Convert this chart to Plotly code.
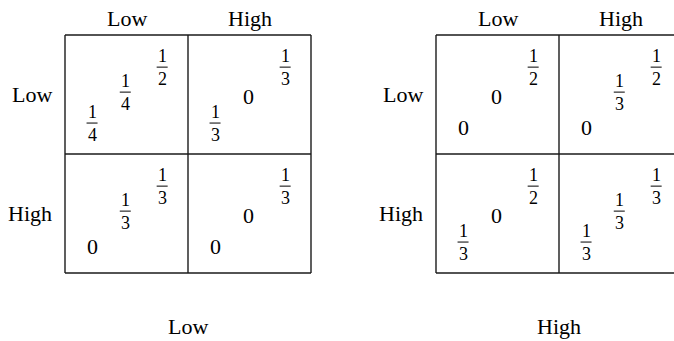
import plotly.graph_objects as go

# ---- data ----
panel_labels = ["Low", "High"]
row_labels = ["Low", "High"]
col_labels = ["Low", "High"]
# each cell: [bottom-left, middle, top-right]
panel_low = [
    [["1/4", "1/4", "1/2"], ["1/3", "0", "1/3"]],
    [["0", "1/3", "1/3"], ["0", "0", "1/3"]],
]
panel_high = [
    [["0", "0", "1/2"], ["0", "1/3", "1/2"]],
    [["1/3", "0", "1/2"], ["1/3", "1/3", "1/3"]],
]
panels = [panel_low, panel_high]

# ---- layout constants (pixel space) ----
W, H = 674, 341
FONT = "Liberation Serif, Times New Roman, serif"
panel_x0 = [65, 436]
panel_y0 = 35
cw, ch = 123, 119
slots = [(0.22, 0.74), (0.49, 0.48), (0.79, 0.27)]
big = 22
small = 18
line_col = "#1a1a1a"

fig = go.Figure()
shapes = []
annotations = []


def txt(x, y, s, size, xanchor="center", yanchor="middle"):
    annotations.append(dict(x=x, y=y, xref="x", yref="y", text=s, showarrow=False,
                            xanchor=xanchor, yanchor=yanchor, borderpad=0,
                            font=dict(family=FONT, size=size, color="black")))


for p, panel in enumerate(panels):
    x0 = panel_x0[p]
    # grid lines
    for i in range(3):
        shapes.append(dict(type="line", xref="x", yref="y", x0=x0, x1=x0 + 2 * cw,
                           y0=panel_y0 + i * ch, y1=panel_y0 + i * ch,
                           line=dict(color=line_col, width=1.4)))
        shapes.append(dict(type="line", xref="x", yref="y", x0=x0 + i * cw, x1=x0 + i * cw,
                           y0=panel_y0, y1=panel_y0 + 2 * ch,
                           line=dict(color=line_col, width=1.4)))
    # column labels
    for j, lab in enumerate(col_labels):
        txt(x0 + (j + 0.5) * cw, 18, lab, big)
    # row labels
    for i, lab in enumerate(row_labels):
        txt(x0 - 12, panel_y0 + (i + 0.5) * ch, lab, big, xanchor="right")
    # panel label
    txt(x0 + cw, 326, panel_labels[p], big)
    # cell values
    for i in range(2):
        for j in range(2):
            for k, val in enumerate(panel[i][j]):
                cx = x0 + j * cw + slots[k][0] * cw
                cy = panel_y0 + i * ch + slots[k][1] * ch
                if "/" in val:
                    num, den = val.split("/")
                    txt(cx, cy - 0.5, num, small, yanchor="bottom")
                    txt(cx, cy + 0.5, den, small, yanchor="top")
                    shapes.append(dict(type="line", xref="x", yref="y", x0=cx - 5.5, x1=cx + 5.5,
                                       y0=cy, y1=cy, line=dict(color="black", width=1)))
                else:
                    txt(cx, cy + 4, val, big)

fig.update_layout(
    width=W, height=H,
    margin=dict(l=0, r=0, t=0, b=0),
    paper_bgcolor="white", plot_bgcolor="white",
    xaxis=dict(range=[0, W], visible=False, fixedrange=True),
    yaxis=dict(range=[H, 0], visible=False, fixedrange=True),
    shapes=shapes, annotations=annotations, showlegend=False,
)
fig.write_html("out.html", config={"displayModeBar": False},
               post_script="document.body.style.margin='0';document.body.style.overflow='hidden';")
